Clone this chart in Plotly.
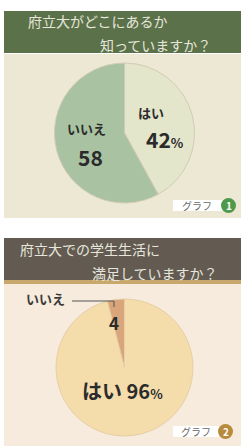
import plotly.graph_objects as go

W, H = 249, 446

# ---- data ----
q1_title = ["府立大がどこにあるか", "知っていますか？"]
q1_labels = ["はい", "いいえ"]
q1_values = [42, 58]

q2_title = ["府立大での学生生活に", "満足していますか？"]
q2_labels = ["はい", "いいえ"]
q2_values = [96, 4]

badge_text = "グラフ"
badge_nums = ["1", "2"]

FONT = "Noto Sans CJK JP"


def px(x):
    return x / W


def py(y):
    return 1 - y / H


fig = go.Figure()

fig.add_trace(go.Pie(
    labels=q1_labels, values=q1_values, sort=False, direction="clockwise", rotation=0,
    marker=dict(colors=["#e3e6cb", "#a9c2a2"], line=dict(color="#d2ccb4", width=1)),
    textinfo="none", hoverinfo="label+value", showlegend=False,
    domain=dict(x=[0, 1], y=[py(203), py(63)]),
))

fig.add_trace(go.Pie(
    labels=q2_labels, values=q2_values, sort=False, direction="clockwise", rotation=0,
    marker=dict(colors=["#f4dcab", "#d9a67c"], line=dict(color="#e6cfa8", width=1)),
    textinfo="none", hoverinfo="label+value", showlegend=False,
    domain=dict(x=[0, 1], y=[py(436), py(299)]),
))

shapes = []
# panel backgrounds
shapes.append(dict(type="rect", xref="paper", yref="paper", x0=px(4), x1=px(241), y0=py(218), y1=py(54),
                   fillcolor="#ece8d3", line=dict(width=0), layer="below"))
shapes.append(dict(type="rect", xref="paper", yref="paper", x0=px(4), x1=px(241), y0=py(446), y1=py(283),
                   fillcolor="#f6ebdd", line=dict(width=0), layer="below"))
# title bars
shapes.append(dict(type="rect", xref="paper", yref="paper", x0=px(4), x1=px(241), y0=py(53), y1=py(11),
                   fillcolor="#5b7149", line=dict(width=0), layer="below"))
shapes.append(dict(type="rect", xref="paper", yref="paper", x0=px(4), x1=px(241), y0=py(280), y1=py(238),
                   fillcolor="#635a52", line=dict(width=0), layer="below"))
shapes.append(dict(type="rect", xref="paper", yref="paper", x0=px(4), x1=px(241), y0=py(284), y1=py(280),
                   fillcolor="#c9a86e", line=dict(width=0), layer="below"))
# badges
shapes.append(dict(type="rect", xref="paper", yref="paper", x0=px(173), x1=px(222), y0=py(211), y1=py(200),
                   fillcolor="#ffffff", line=dict(width=0)))
shapes.append(dict(type="circle", xref="paper", yref="paper", x0=px(221), x1=px(236), y0=py(213), y1=py(198),
                   fillcolor="#4f9a4a", line=dict(width=0)))
shapes.append(dict(type="rect", xref="paper", yref="paper", x0=px(173), x1=px(219), y0=py(437), y1=py(426),
                   fillcolor="#ffffff", line=dict(width=0)))
shapes.append(dict(type="circle", xref="paper", yref="paper", x0=px(218), x1=px(233), y0=py(439), y1=py(424),
                   fillcolor="#b88a3c", line=dict(width=0)))
# leader line for いいえ (chart 2)
shapes.append(dict(type="path", xref="paper", yref="paper",
                   path=f"M {px(72)} {py(301)} L {px(114)} {py(301)} L {px(114)} {py(307)}",
                   line=dict(color="#555555", width=1)))

ann = []


def t(x, y, text, size, color="#2b2b2b", xanchor="center", bold=False, yanchor="middle", align="center"):
    ann.append(dict(xref="paper", yref="paper", x=px(x), y=py(y), text=(f"<b>{text}</b>" if bold else text),
                    showarrow=False, xanchor=xanchor, yanchor=yanchor, align=align,
                    font=dict(family=FONT, size=size, color=color)))


# titles
t(26, 33, q1_title[0], 14, "#e6e6dc", "left", yanchor="bottom")
t(98, 33, q1_title[1], 14, "#e6e6dc", "left", yanchor="top")
t(18, 261, q2_title[0], 14, "#e6e6dc", "left", yanchor="bottom")
t(90, 261, q2_title[1], 14, "#e6e6dc", "left", yanchor="top")

# chart 1 labels
t(86, 140, q1_labels[1], 13, bold=True, yanchor="bottom")
t(90, 140, f"{q1_values[1]}", 21, bold=True, yanchor="top")
t(151, 113, q1_labels[0], 13, bold=True)
t(165, 139, f"{q1_values[0]}<span style='font-size:13px'>%</span>", 21, bold=True)

# chart 2 labels
t(45, 298, q2_labels[1], 13, "#3a3a3a", bold=True)
t(114, 322, f"{q2_values[1]}", 17, bold=True)
t(122, 390, f"{q2_labels[0]} {q2_values[0]}<span style='font-size:13px'>%</span>", 20, bold=True)

# badges
t(197, 205.5, badge_text, 10, "#6a6a6a")
t(228.5, 205.5, badge_nums[0], 10, "#ffffff", bold=True)
t(196, 431.5, badge_text, 10, "#6a6a6a")
t(225.5, 431.5, badge_nums[1], 10, "#ffffff", bold=True)

fig.update_layout(
    width=W, height=H, margin=dict(l=0, r=0, t=0, b=0),
    paper_bgcolor="#ffffff", plot_bgcolor="#ffffff",
    shapes=shapes, annotations=ann,
    font=dict(family=FONT),
)

fig.write_html("out.html", config={"displayModeBar": False},
               post_script="document.body.style.margin='0px';")
